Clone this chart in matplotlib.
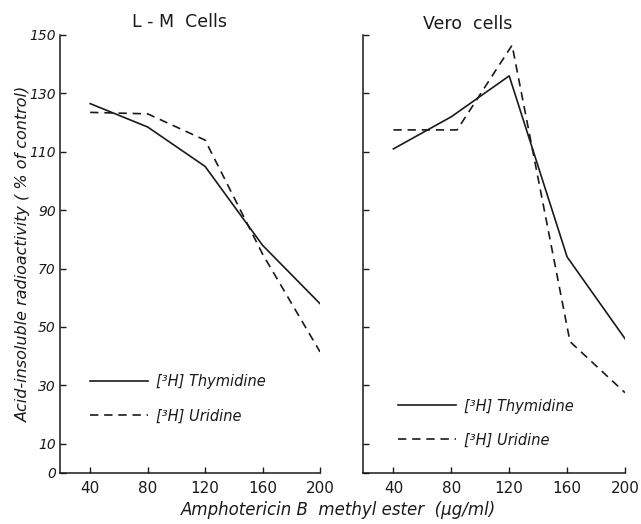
import matplotlib
matplotlib.use("Agg")
import matplotlib.pyplot as plt

# amphotericin B methyl ester dose (ug/ml)
doses = [40, 80, 120, 160, 200]

# L-M cells, % of control
lm_thymidine = [126.5, 118.5, 105, 78, 58]
lm_uridine = [123.5, 123, 114, 75, 41.5]

# Vero cells, % of control (uridine points sit slightly right of the ticks)
vero_doses_u = [40, 84, 122, 162, 200]
vero_thymidine = [111, 122, 136, 74, 46]
vero_uridine = [117.5, 117.5, 146.5, 45, 27.5]

y_ticks = [0, 10, 30, 50, 70, 90, 110, 130, 150]
y_ticklabels = ["0", "10", "30", "50", "70", "90", "110", "130", "150"]
x_ticks = [40, 80, 120, 160, 200]

INK = "#1a1a1a"
plt.rcParams["font.family"] = "DejaVu Sans"

fig = plt.figure(figsize=(6.41, 5.24), dpi=100)
ax1 = fig.add_axes([60 / 641, 51 / 524, 260 / 641, 438 / 524])
ax2 = fig.add_axes([363 / 641, 51 / 524, 262 / 641, 438 / 524])


def style_axis(ax, show_ylabels):
    ax.set_xlim(19, 200)
    ax.set_ylim(0, 150)
    for side in ("top", "right"):
        ax.spines[side].set_visible(False)
    for side in ("left", "bottom"):
        ax.spines[side].set_color(INK)
        ax.spines[side].set_linewidth(1.1)
    ax.set_xticks(x_ticks)
    ax.set_xticklabels([str(v) for v in x_ticks], fontsize=11, color=INK)
    ax.set_yticks(y_ticks)
    if show_ylabels:
        ax.set_yticklabels(y_ticklabels, fontsize=10, color=INK, style="italic")
    else:
        ax.set_yticklabels([])
    ax.tick_params(axis="x", direction="in", length=4, width=1.0, color=INK, pad=6)
    ax.tick_params(axis="y", direction="in", length=4, width=1.0, color=INK, pad=3)


def add_legend(ax, x, y):
    leg = ax.legend(loc="upper left", bbox_to_anchor=(x, y), frameon=False,
                    handlelength=4.0, handletextpad=0.55, labelspacing=1.3,
                    borderpad=0, borderaxespad=0, prop={"size": 10.5, "style": "italic"})
    for t in leg.get_texts():
        t.set_color(INK)


ax1.plot(doses, lm_thymidine, color=INK, lw=1.2, label="[³H] Thymidine")
ax1.plot(doses, lm_uridine, color=INK, lw=1.2, ls=(0, (5, 3.5)), label="[³H] Uridine")
style_axis(ax1, True)
ax1.set_ylabel("Acid-insoluble radioactivity ( % of control)", fontsize=11.5,
               style="italic", color=INK)
ax1.yaxis.set_label_coords(-29 / 260, 0.5)
ax1.text(0.46, 1.01, "L - M  Cells", transform=ax1.transAxes, ha="center",
         va="bottom", fontsize=12.5, color=INK)
add_legend(ax1, 0.115, 0.225)

ax2.plot(doses, vero_thymidine, color=INK, lw=1.2, label="[³H] Thymidine")
ax2.plot(vero_doses_u, vero_uridine, color=INK, lw=1.2, ls=(0, (5, 3.5)), label="[³H] Uridine")
style_axis(ax2, False)
ax2.text(0.40, 1.005, "Vero  cells", transform=ax2.transAxes, ha="center",
         va="bottom", fontsize=12.5, color=INK)
add_legend(ax2, 0.134, 0.17)

fig.text(339 / 641, 1 - 510 / 524, "Amphotericin B  methyl ester  (μg/ml)",
         ha="center", va="center", fontsize=12, style="italic", color=INK)

fig.savefig("out.png", dpi=100)
